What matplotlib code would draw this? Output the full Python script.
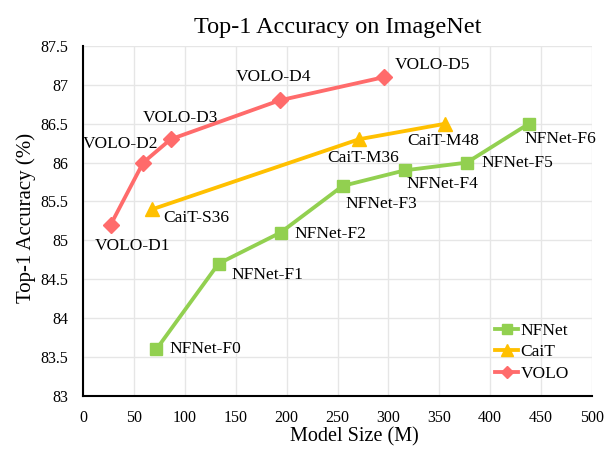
import matplotlib
matplotlib.use("Agg")
import matplotlib.pyplot as plt

plt.rcParams["font.family"] = ["Liberation Serif", "DejaVu Serif"]

volo_names = ["VOLO-D1", "VOLO-D2", "VOLO-D3", "VOLO-D4", "VOLO-D5"]
volo_size = [27, 59, 86, 193, 296]
volo_acc = [85.2, 86.0, 86.3, 86.8, 87.1]

cait_names = ["CaiT-S36", "CaiT-M36", "CaiT-M48"]
cait_size = [68, 271, 356]
cait_acc = [85.4, 86.3, 86.5]

nfnet_names = ["NFNet-F0", "NFNet-F1", "NFNet-F2", "NFNet-F3", "NFNet-F4", "NFNet-F5", "NFNet-F6"]
nfnet_size = [72, 133, 194, 255, 316, 377, 438]
nfnet_acc = [83.6, 84.7, 85.1, 85.7, 85.9, 86.0, 86.5]

fig = plt.figure(figsize=(6.16, 4.55), dpi=100)
ax = fig.add_axes([0.135, 0.13, 0.826, 0.769])

lw = 2.75
ax.plot(nfnet_size, nfnet_acc, color="#92D050", marker="s", markersize=9, linewidth=lw, label="NFNet")
ax.plot(cait_size, cait_acc, color="#FFC000", marker="^", markersize=10, linewidth=lw, label="CaiT")
ax.plot(volo_size, volo_acc, color="#FF6B6B", marker="D", markersize=8, linewidth=lw, label="VOLO")

fs = 12.5


def put_labels(names, xs, ys, offs):
    # offsets in pixels, text vertically centred
    for n, x, y, (dx, dy, ha) in zip(names, xs, ys, offs):
        ax.annotate(n, (x, y), xytext=(dx, dy), textcoords="offset pixels",
                    ha=ha, va="center", fontsize=fs)


put_labels(volo_names, volo_size, volo_acc,
           [(-16, -21, "left"), (15, 19, "right"), (-28, 21, "left"), (-44, 23, "left"), (10, 12, "left")])
put_labels(cait_names, cait_size, cait_acc,
           [(11, -9, "left"), (-32, -19, "left"), (-38, -17, "left")])
put_labels(nfnet_names, nfnet_size, nfnet_acc,
           [(13, 0, "left"), (13, -11, "left"), (14, -1, "left"), (3, -18, "left"),
            (2, -14, "left"), (15, 0, "left"), (-4, -15, "left")])

ax.set_xlim(0, 500)
ax.set_ylim(83, 87.5)
ax.set_xticks(range(0, 501, 50))
ax.set_yticks([83, 83.5, 84, 84.5, 85, 85.5, 86, 86.5, 87, 87.5])
ax.set_yticklabels(["83", "83.5", "84", "84.5", "85", "85.5", "86", "86.5", "87", "87.5"])
ax.tick_params(labelsize=11.5, length=0, pad=11)
ax.tick_params(axis="x", pad=10)
ax.grid(True, color="#E6E6E6", linewidth=1)
ax.set_axisbelow(True)
for s in ["top", "right"]:
    ax.spines[s].set_visible(False)
for s in ["left", "bottom"]:
    ax.spines[s].set_linewidth(1.5)

ax.set_title("Top-1 Accuracy on ImageNet", fontsize=17.5, pad=9)
ax.set_xlabel("Model Size (M)", fontsize=14.5)
ax.xaxis.set_label_coords(0.534, -0.09)
ax.set_ylabel("Top-1 Accuracy (%)", fontsize=15)
ax.yaxis.set_label_coords(-0.093, 0.509)

ax.legend(loc="lower left", bbox_to_anchor=(0.81, 0.04), frameon=False, fontsize=12.5,
          handlelength=1.3, handletextpad=0.15, borderpad=0, borderaxespad=0,
          labelspacing=0.3, markerscale=0.8)

fig.savefig("out.png", dpi=100)
